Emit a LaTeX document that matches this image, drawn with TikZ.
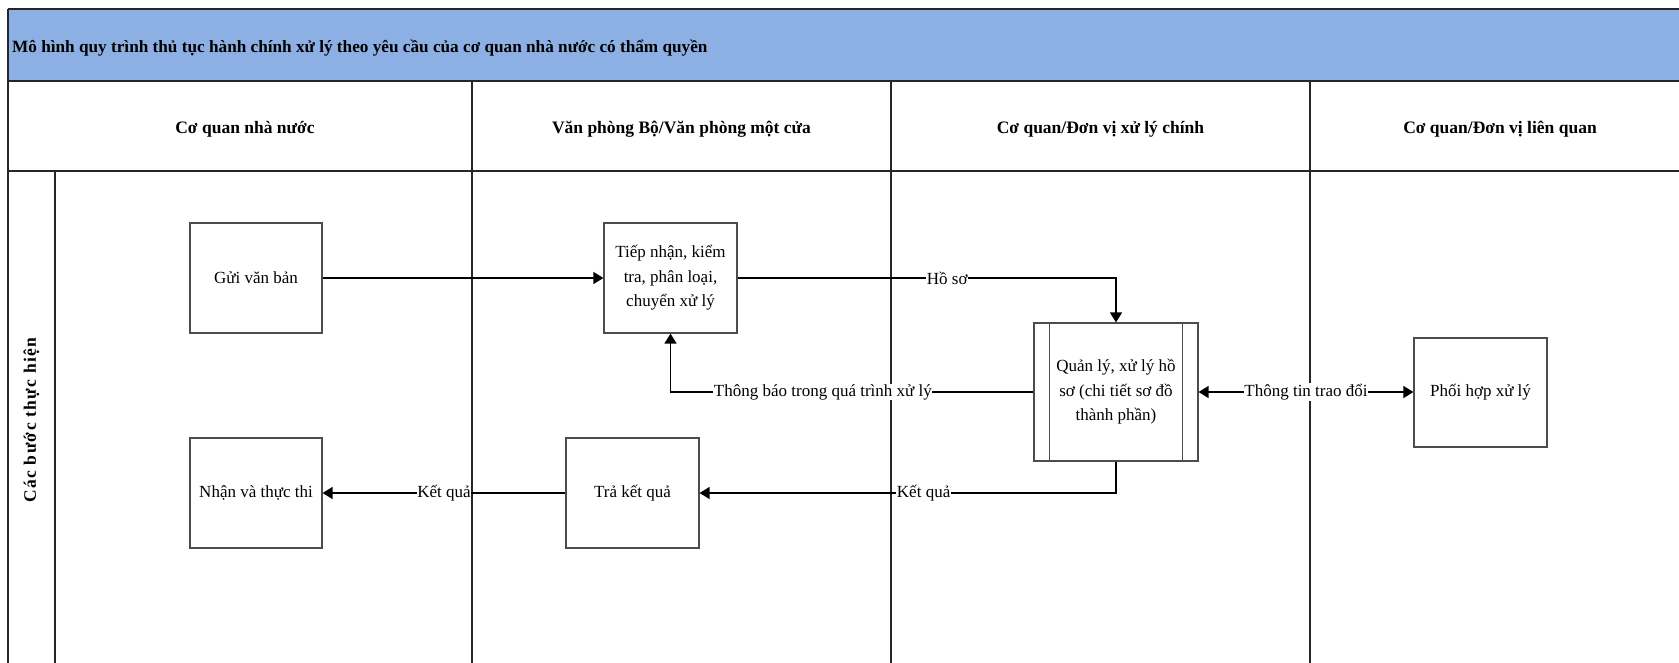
\documentclass[tikz,border=0pt]{standalone}
\usepackage{fontspec}
\setmainfont{Liberation Serif}
\usetikzlibrary{arrows.meta}
\definecolor{bandblue}{RGB}{141,176,228}

\begin{document}
\begin{tikzpicture}[x=1pt,y=-1pt,
  proc/.style={draw=black!70, line width=1.2pt, fill=white,
    minimum width=133pt, minimum height=110pt, inner sep=2pt,
    align=center, font=\fontsize{17}{24.5}\selectfont},
  tip/.tip={Triangle[length=10pt,width=12pt]},
  flow/.style={draw=black, line width=1.4pt, -tip},
  lbl/.style={fill=white, inner sep=0.6pt, font=\fontsize{17}{20}\selectfont},
  grid/.style={draw=black!85, line width=1.2pt},
  hdr/.style={font=\bfseries\fontsize{17.5}{21}\selectfont}]

\useasboundingbox (0,0) rectangle (1679,662);
\begin{scope}
\clip (0,0) rectangle (1679,662);

% title band
\fill[bandblue] (8,9) rectangle (1720,81);

% table grid
\draw[grid] (8,9) -- (1720,9);
\draw[grid] (8,81) -- (1720,81);
\draw[grid] (8,171) -- (1720,171);
\draw[grid] (8,9) -- (8,700);
\draw[grid] (55,171) -- (55,700);
\draw[grid] (472,81) -- (472,700);
\draw[grid] (891,81) -- (891,700);
\draw[grid] (1310,81) -- (1310,700);

% title and lane headers
\node[hdr, font=\bfseries\fontsize{17.2}{21}\selectfont, anchor=west, inner sep=0pt] (title) at (12,48)
  {Mô hình quy trình thủ tục hành chính xử lý theo yêu cầu của cơ quan nhà nước có thẩm quyền};
\node[hdr] (lane1) at (245,129) {Cơ quan nhà nước};
\node[hdr] (lane2) at (681.5,129) {Văn phòng Bộ/Văn phòng một cửa};
\node[hdr] (lane3) at (1100.5,129) {Cơ quan/Đơn vị xử lý chính};
\node[hdr] (lane4) at (1500,129) {Cơ quan/Đơn vị liên quan};
\node[hdr, rotate=90] (rowlbl) at (31.5,420)
  {\addfontfeature{LetterSpace=8}Các bước thực hiện};

% process steps
\node[proc, minimum width=132pt] (g) at (256,278) {Gửi văn bản};
\node[proc] (t) at (670.5,278) {Tiếp nhận, kiểm\\tra, phân loại,\\chuyển xử lý};
\node[proc, minimum width=164pt, minimum height=138pt] (q) at (1116,392)
  {Quản lý, xử lý hồ\\sơ (chi tiết sơ đồ\\thành phần)};
\draw[black!70, line width=1.2pt]
  ([xshift=16pt]q.north west) -- ([xshift=16pt]q.south west)
  ([xshift=-16pt]q.north east) -- ([xshift=-16pt]q.south east);
\node[proc, minimum height=109pt] (p) at (1480.5,392.5) {Phối hợp xử lý};
\node[proc, minimum width=132pt] (n) at (256,493) {Nhận và thực thi};
\node[proc] (r) at (632.5,493) {Trả kết quả};

% connectors
\draw[flow] (g.east) -- (t.west);
\draw[flow] (t.east) -| node[lbl, pos=0.277] {Hồ sơ} (q.north);
\draw[flow] (q.west) -| node[lbl, pos=0.29] {Thông báo trong quá trình xử lý} (t.south);
\draw[flow, tip-tip] (q.east) -- node[lbl] {Thông tin trao đổi} (q.east -| p.west);
\draw[flow] (q.south) |- node[lbl, pos=0.731] {Kết quả} (r.east);
\draw[flow] (r.west) -- node[lbl] {Kết quả} (n.east);
\end{scope}
\end{tikzpicture}
\end{document}
